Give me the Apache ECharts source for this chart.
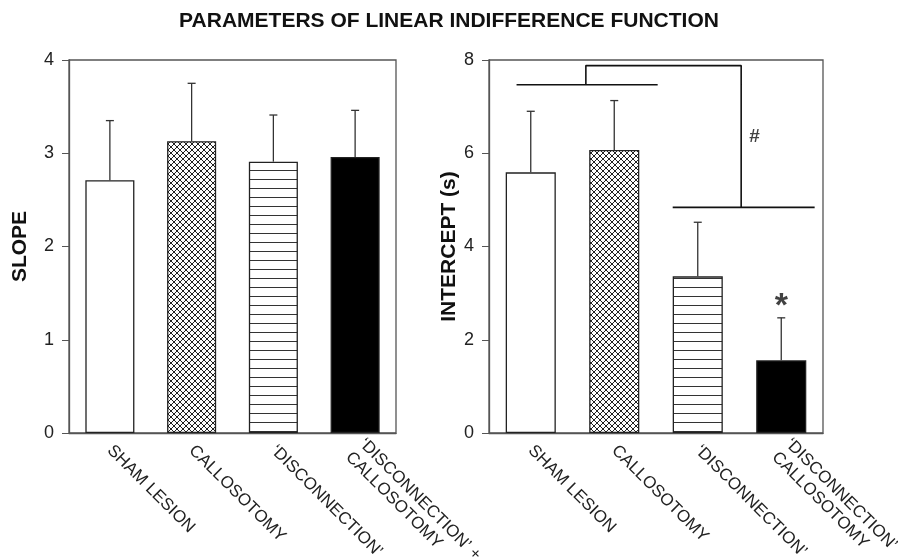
<!DOCTYPE html>
<html>
<head>
<meta charset="utf-8">
<script src="https://cdn.jsdelivr.net/npm/echarts@6/dist/echarts.min.js"></script>
<style>
  html, body { margin: 0; padding: 0; background: #fff; }
  #chart { width: 898px; height: 560px; }
</style>
</head>
<body>
<div id="chart"></div>
<script>
// groups (x axis)
var groups = ['SHAM LESION', 'CALLOSOTOMY', '‘DISCONNECTION’', '‘DISCONNECTION’ +\nCALLOSOTOMY']
// slope: mean and error
var slopeMean = [2.71, 3.13, 2.91, 2.96]
var slopeErr = [0.64, 0.62, 0.50, 0.50]
// intercept (s): mean and error
var interceptMean = [5.59, 6.07, 3.36, 1.56]
var interceptErr = [1.31, 1.06, 1.16, 0.91]
// significance bracket (x in category index units, y in seconds)
var bracketLeft = [[-0.17, 7.47], [1.52, 7.47]]
var bracketTop = [[0.66, 7.47], [0.66, 7.88], [2.52, 7.88], [2.52, 4.84]]
var bracketRight = [[1.70, 4.84], [3.40, 4.84]]
var hashMark = [[2.68, 6.35]]
var starMark = [[3, 2.72]]

// 填充图案
function makePattern(type) {
  var c = document.createElement('canvas')
  var ctx = c.getContext('2d')
  if (type === 'cross') {
    c.width = 6
    c.height = 6
    ctx.fillStyle = '#fff'
    ctx.fillRect(0, 0, 6, 6)
    ctx.strokeStyle = '#222'
    ctx.lineWidth = 1
    ctx.beginPath()
    ctx.moveTo(0, 0); ctx.lineTo(6, 6)
    ctx.moveTo(6, 0); ctx.lineTo(0, 6)
    ctx.stroke()
  } else {
    c.width = 8
    c.height = 9
    ctx.fillStyle = '#fff'
    ctx.fillRect(0, 0, 8, 9)
    ctx.fillStyle = '#333'
    ctx.fillRect(0, 8, 8, 1)
  }
  return c
}

var fills = [
  '#fff',
  { image: makePattern('cross'), repeat: 'repeat' },
  { image: makePattern('lines'), repeat: 'repeat' },
  '#000'
]

function barData(vals) {
  return vals.map(function (v, i) {
    return { value: v, itemStyle: { color: fills[i] } }
  })
}

function errData(mean, err) {
  return mean.map(function (v, i) { return [i, v, v + err[i]] })
}

function renderErr(params, api) {
  var base = api.coord([api.value(0), api.value(1)])
  var top = api.coord([api.value(0), api.value(2)])
  var style = { stroke: '#333', lineWidth: 1.3 }
  return {
    type: 'group',
    children: [
      { type: 'line', shape: { x1: base[0], y1: base[1], x2: top[0], y2: top[1] }, style: style },
      { type: 'line', shape: { x1: top[0] - 4, y1: top[1], x2: top[0] + 4, y2: top[1] }, style: style }
    ]
  }
}

var font = '"Liberation Sans", Arial, sans-serif'
var labelStyle = { color: '#222', fontFamily: font }

function yAxis(gi, max, interval, name, gap) {
  return {
    type: 'value', gridIndex: gi, min: 0, max: max, interval: interval,
    name: name, nameLocation: 'middle', nameGap: gap, nameRotate: 90,
    nameTextStyle: { color: '#111', fontSize: 21, fontWeight: 'bold', fontFamily: font },
    axisLine: { show: true, onZero: false, lineStyle: { color: '#555', width: 1.3 } },
    axisTick: { show: true, length: 7, lineStyle: { color: '#555' } },
    axisLabel: Object.assign({ margin: 15, fontSize: 18 }, labelStyle),
    splitLine: { show: false }
  }
}

function xAxis(gi) {
  return {
    type: 'category', gridIndex: gi, data: groups,
    axisLine: { show: true, onZero: false, lineStyle: { color: '#555', width: 1.3 } },
    axisTick: { show: false },
    axisLabel: Object.assign({ rotate: -45, margin: 15, interval: 0, lineHeight: 19, fontSize: 17 }, labelStyle)
  }
}

var myChart = echarts.init(document.getElementById('chart'))
var option = {
  animation: false,
  backgroundColor: '#fff',
  title: {
    text: 'PARAMETERS OF LINEAR INDIFFERENCE FUNCTION',
    left: 'center', top: 6,
    textStyle: { color: '#111', fontSize: 21, fontWeight: 'bold', fontFamily: font }
  },
  grid: [
    { left: 69, right: 502, top: 60, bottom: 127, show: true, borderColor: '#555', borderWidth: 1.3, outerBoundsMode: 'none' },
    { left: 489, right: 75, top: 60, bottom: 127, show: true, borderColor: '#555', borderWidth: 1.3, outerBoundsMode: 'none' }
  ],
  xAxis: [
    xAxis(0),
    xAxis(1),
    { type: 'value', gridIndex: 1, min: -0.5, max: 3.5, show: false }
  ],
  yAxis: [
    yAxis(0, 4, 1, 'SLOPE', 38),
    yAxis(1, 8, 2, 'INTERCEPT (s)', 28)
  ],
  series: [
    {
      type: 'bar', xAxisIndex: 0, yAxisIndex: 0, barWidth: '60%',
      itemStyle: { borderColor: '#222', borderWidth: 1.3 },
      data: barData(slopeMean)
    },
    {
      type: 'custom', xAxisIndex: 0, yAxisIndex: 0, z: 3,
      renderItem: renderErr, data: errData(slopeMean, slopeErr)
    },
    {
      type: 'bar', xAxisIndex: 1, yAxisIndex: 1, barWidth: '60%',
      itemStyle: { borderColor: '#222', borderWidth: 1.3 },
      data: barData(interceptMean)
    },
    {
      type: 'custom', xAxisIndex: 1, yAxisIndex: 1, z: 3,
      renderItem: renderErr, data: errData(interceptMean, interceptErr)
    },
    {
      type: 'line', xAxisIndex: 2, yAxisIndex: 1, symbol: 'none',
      lineStyle: { color: '#111', width: 1.6 }, data: bracketLeft
    },
    {
      type: 'line', xAxisIndex: 2, yAxisIndex: 1, symbol: 'none',
      lineStyle: { color: '#111', width: 1.6 }, data: bracketTop
    },
    {
      type: 'line', xAxisIndex: 2, yAxisIndex: 1, symbol: 'none',
      lineStyle: { color: '#111', width: 1.6 }, data: bracketRight
    },
    {
      type: 'scatter', xAxisIndex: 2, yAxisIndex: 1, symbolSize: 0, data: hashMark,
      label: { show: true, position: 'inside', formatter: '#', color: '#111', fontSize: 19, fontWeight: 'bold', fontFamily: font }
    },
    {
      type: 'scatter', xAxisIndex: 2, yAxisIndex: 1, symbolSize: 0, data: starMark,
      label: { show: true, position: 'inside', formatter: '*', color: '#111', fontSize: 34, fontWeight: 'bold', fontFamily: font }
    }
  ]
}
myChart.setOption(option)
</script>
</body>
</html>
